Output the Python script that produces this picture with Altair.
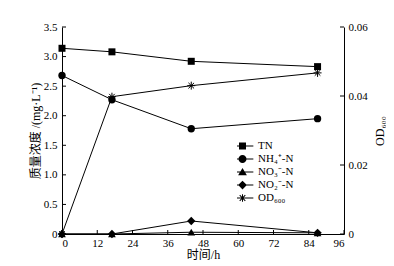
import altair as alt
import pandas as pd

# ---- data ----
time = [0, 17, 44, 87]
tn = [3.14, 3.08, 2.92, 2.83]
nh4 = [2.68, 2.27, 1.78, 1.95]
no3 = [0.0, 0.0, 0.03, 0.02]
no2 = [0.0, 0.0, 0.22, 0.02]
od600 = [0.0, 0.0398, 0.043, 0.0467]

series_names = ["TN", "NH₄⁺-N", "NO₃⁻-N", "NO₂⁻-N", "OD₆₀₀"]
x_ticks = [0, 12, 24, 36, 48, 60, 72, 84, 96]
left_ticks = [0, 0.5, 1.0, 1.5, 2.0, 2.5, 3.0, 3.5]
right_ticks = [0, 0.02, 0.04, 0.06]

FONT = "Liberation Serif, Noto Sans CJK SC"
W, H = 282, 207

conc_df = pd.DataFrame({
    "time": time * 4,
    "value": tn + nh4 + no3 + no2,
    "series": [series_names[0]] * 4 + [series_names[1]] * 4 + [series_names[2]] * 4 + [series_names[3]] * 4,
})
od_df = pd.DataFrame({"time": time, "od": od600})
xt_df = pd.DataFrame({"time": x_ticks})
lt_df = pd.DataFrame({"value": left_ticks})
rt_df = pd.DataFrame({"od": right_ticks})
leg_df = pd.DataFrame({"series": series_names})

ASTER = "M-1,0H1M0,-1V1M-0.7,-0.7L0.7,0.7M-0.7,0.7L0.7,-0.7"
marker = {
    series_names[0]: dict(shape="square", size=49),
    series_names[1]: dict(shape="circle", size=54),
    series_names[2]: dict(shape="triangle-up", size=60),
    series_names[3]: dict(shape="diamond", size=70),
}
# legend glyphs: a thin filled bar (the line) plus the marker, all filled shapes
BAR = "M-3.1,-0.14H3.1V0.14H-3.1Z"
legend_paths = [
    BAR + "M-1,-1H1V1H-1Z",
    BAR + "M1.15,0A1.15,1.15,0,1,1,-1.15,0A1.15,1.15,0,1,1,1.15,0Z",
    BAR + "M0,-1.15L1.25,0.95L-1.25,0.95Z",
    BAR + "M0,-1.25L1.25,0L0,1.25L-1.25,0Z",
    BAR + "M-0.14,-1.1H0.14V1.1H-0.14Z"
    "M-0.7,-0.9L0.9,0.7L0.7,0.9L-0.9,-0.7Z"
    "M-0.9,0.7L0.7,-0.9L0.9,-0.7L-0.7,0.9Z",
]


def xenc():
    return alt.X(
        "time:Q",
        scale=alt.Scale(domain=[0, 96], nice=False, zero=False),
        axis=alt.Axis(
            values=x_ticks, title="时间/h", ticks=False, tickSize=0, grid=False,
            labelPadding=3, labelFont=FONT, labelFontSize=11, labelColor="black",
            titleFont=FONT, titleFontSize=12, titleFontWeight="normal", titleColor="black",
            titleX=W / 2, titleY=20, titleBaseline="middle",
            domainColor="black", domainWidth=1,
        ),
    )


def yleft():
    return alt.Y(
        "value:Q",
        scale=alt.Scale(domain=[0, 3.5], nice=False),
        axis=alt.Axis(
            values=left_ticks, title="质量浓度 /(mg·L⁻¹)", ticks=False, tickSize=0, grid=False,
            labelExpr="datum.value == 0 ? '0' : format(datum.value, '.1f')",
            labelPadding=5, labelFont=FONT, labelFontSize=11, labelColor="black",
            titleFont=FONT, titleFontSize=12, titleFontWeight="normal", titleColor="black",
            titleX=-27, titleY=H / 2, titleBaseline="middle",
            domainColor="black", domainWidth=1,
        ),
    )


def yright():
    return alt.Y(
        "od:Q",
        scale=alt.Scale(domain=[0, 0.06], nice=False),
        axis=alt.Axis(
            orient="right", values=right_ticks, title="OD₆₀₀", ticks=False, tickSize=0, grid=False,
            labelExpr="datum.value == 0 ? '0' : format(datum.value, '.2f')",
            labelPadding=4, labelFont=FONT, labelFontSize=11, labelColor="black",
            titleFont=FONT, titleFontSize=12, titleFontWeight="normal", titleColor="black",
            titleX=35, titleY=H / 2, titleBaseline="middle", titleAngle=270,
            domainColor="black", domainWidth=1,
        ),
    )


lines = alt.Chart(conc_df).mark_line(color="black", strokeWidth=1).encode(
    x=xenc(), y=yleft(), detail="series:N"
)
point_layers = []
for name, m in marker.items():
    point_layers.append(
        alt.Chart(conc_df).transform_filter(alt.datum.series == name)
        .mark_point(filled=True, color="black", opacity=1, shape=m["shape"], size=m["size"])
        .encode(x=xenc(), y=yleft())
    )

left_ticks_layer = alt.Chart(lt_df).mark_rule(color="black", strokeWidth=1).encode(
    x=alt.value(0), x2=alt.value(4), y=yleft()
)
bottom_ticks_layer = alt.Chart(xt_df).mark_rule(color="black", strokeWidth=1).encode(
    x=xenc(), y=alt.value(H), y2=alt.value(H - 4)
)

legend_layer = alt.Chart(leg_df).transform_filter("false").mark_point(
    filled=True, color="black", opacity=1
).encode(
    shape=alt.Shape(
        "series:N",
        scale=alt.Scale(domain=series_names, range=legend_paths),
        legend=alt.Legend(
            title=None, orient="none", legendX=175, legendY=113, padding=0,
            labelFont=FONT, labelFontSize=11, labelColor="black", labelOffset=10,
            symbolSize=49, symbolFillColor="black", symbolOpacity=1, rowPadding=1,
            clipHeight=12, labelLimit=200,
        ),
    )
)

left = alt.layer(lines, *point_layers, left_ticks_layer, bottom_ticks_layer, legend_layer)

od_line = alt.Chart(od_df).mark_line(color="black", strokeWidth=1).encode(x=xenc(), y=yright())
od_pts = alt.Chart(od_df).mark_point(
    shape=ASTER, size=64, filled=False, stroke="black", strokeWidth=1, opacity=1
).encode(x=xenc(), y=yright())
right_ticks_layer = alt.Chart(rt_df).mark_rule(color="black", strokeWidth=1).encode(
    x=alt.value(W), x2=alt.value(W - 4), y=yright()
)
right = alt.layer(od_line, od_pts, right_ticks_layer)

chart = (
    alt.layer(left, right)
    .resolve_scale(y="independent")
    .properties(
        width=W, height=H,
        autosize=alt.AutoSizeParams(type="none"),
        padding={"left": 54, "top": 19, "right": 42, "bottom": 32},
        background="white",
    )
    .configure_view(stroke=None)
)

chart.save("out.html", embed_options={"renderer": "svg", "actions": False})
